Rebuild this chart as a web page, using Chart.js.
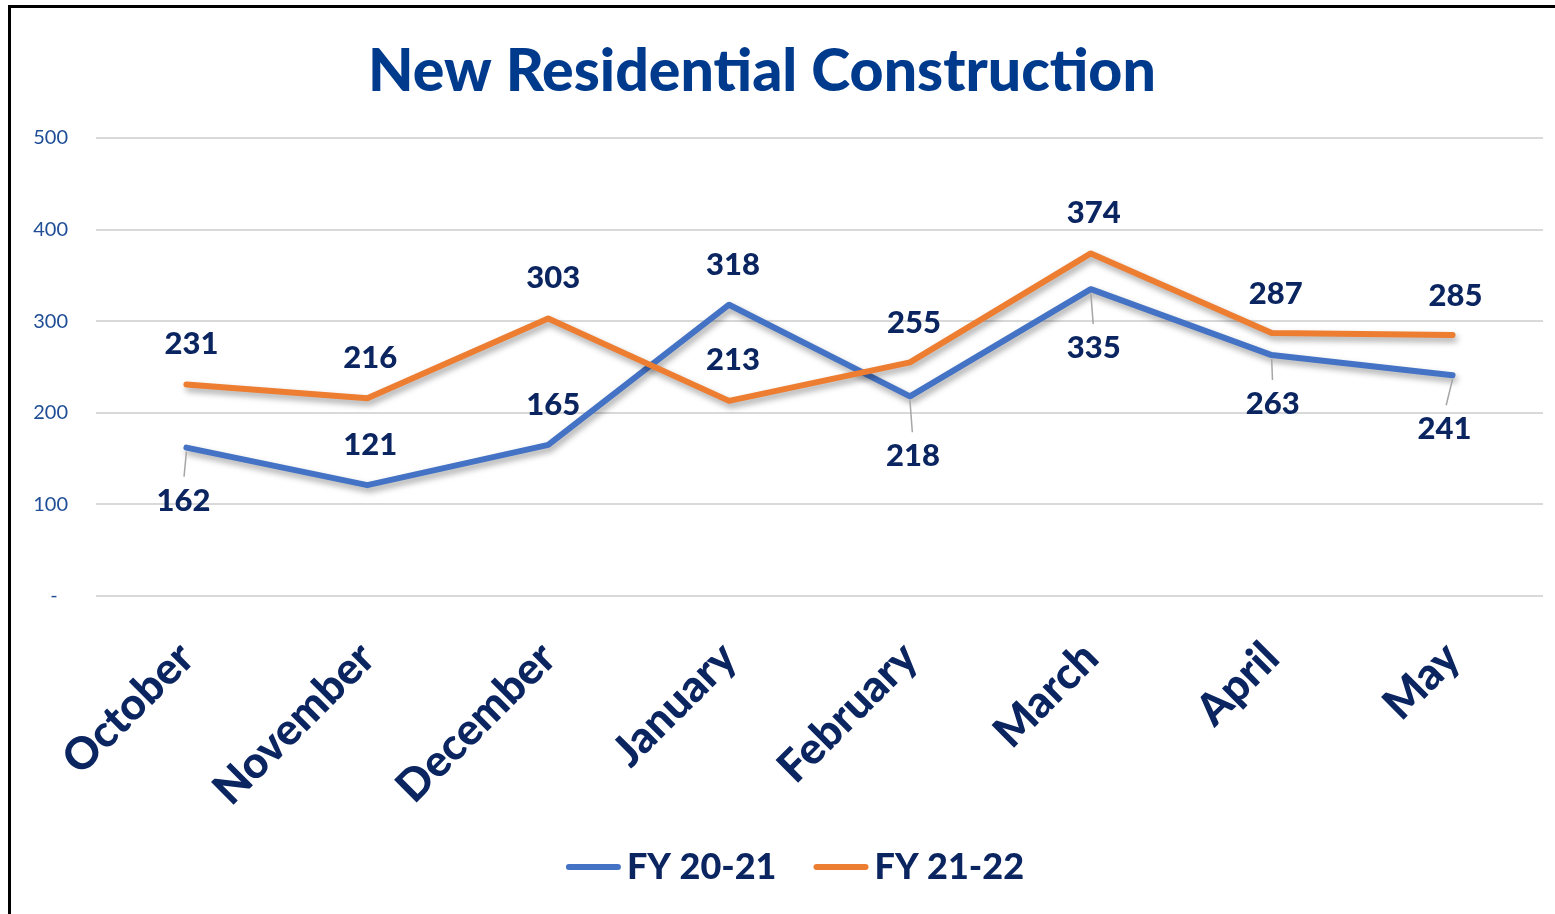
<!DOCTYPE html>
<html>
<head>
<meta charset="utf-8">
<script src="https://cdn.jsdelivr.net/npm/chart.js@4.4.1/dist/chart.umd.min.js"></script>
<style>
  html, body { margin: 0; padding: 0; background: #fff; overflow: hidden; }
  #frame {
    position: absolute; left: 8px; top: 5px; width: 1600px; height: 960px;
    border-left: 3px solid #000; border-top: 3px solid #000; box-sizing: border-box;
  }
  #wrap { position: absolute; left: 0; top: 0; width: 1555px; height: 914px; }
</style>
</head>
<body>
<div id="frame"></div>
<div id="wrap"><canvas id="chart"></canvas></div>
<script>
// chart data
const months = ['October', 'November', 'December', 'January', 'February', 'March', 'April', 'May']
const fy2021 = [162, 121, 165, 318, 218, 335, 263, 241]
const fy2122 = [231, 216, 303, 213, 255, 374, 287, 285]
const yTicks = [0, 100, 200, 300, 400, 500]

const navy = '#0B2561'
const blue = '#4472C4'
const orange = '#ED7D31'

// where each value label sits relative to its point (dx, dy to text centre)
const labelPlace = [
  [[-3, 53, true], [3, -40], [5, -40], [4, -40], [3, 60, true], [3, 59, true], [1, 49, true], [-8, 54, true]],
  [[5, -40], [3, -40], [5, -40], [4, -41], [4, -39], [3, -40], [4, -39], [3, -39]]
]

const shadowPlugin = {
  id: 'lineShadow',
  beforeDatasetDraw(chart) {
    const ctx = chart.ctx
    ctx.save()
    ctx.shadowColor = 'rgba(0,0,0,0.35)'
    ctx.shadowBlur = 6
    ctx.shadowOffsetX = 2
    ctx.shadowOffsetY = 4
  },
  afterDatasetDraw(chart) {
    chart.ctx.restore()
  }
}

const overlayPlugin = {
  id: 'overlay',
  afterDraw(chart) {
    const ctx = chart.ctx
    ctx.save()
    // title
    ctx.fillStyle = '#003A8C'
    ctx.font = '900 59px Lato'
    ctx.textAlign = 'center'
    ctx.textBaseline = 'middle'
    ctx.fillText('New Residential Construction', 762, 72)

    // value labels + leader lines
    ctx.font = '900 31px Lato'
    chart.data.datasets.forEach((ds, di) => {
      const meta = chart.getDatasetMeta(di)
      meta.data.forEach((pt, i) => {
        const [dx, dy, lead] = labelPlace[di][i]
        const lx = pt.x + dx
        const ly = pt.y + dy
        if (lead) {
          ctx.strokeStyle = '#A6A6A6'
          ctx.lineWidth = 1.5
          ctx.beginPath()
          ctx.moveTo(pt.x, pt.y + 4)
          ctx.lineTo(pt.x + dx * 0.8, ly - 24)
          ctx.stroke()
        }
        ctx.fillStyle = navy
        ctx.fillText(String(ds.data[i]), lx, ly)
      })
    })

    // legend
    ctx.font = '900 36px Lato'
    ctx.textAlign = 'left'
    ctx.lineCap = 'round'
    ctx.lineWidth = 6
    const items = chart.data.datasets.map(ds => ({ text: ds.label, color: ds.borderColor, w: ctx.measureText(ds.label).width }))
    const lineLen = 55, gap = 6, between = 37
    const total = items.reduce((s, it) => s + lineLen + gap + it.w, 0) + between * (items.length - 1)
    let x = 795 - total / 2
    const ly = 867
    items.forEach(it => {
      ctx.strokeStyle = it.color
      ctx.beginPath()
      ctx.moveTo(x + 3, ly)
      ctx.lineTo(x + lineLen - 3, ly)
      ctx.stroke()
      ctx.fillStyle = navy
      ctx.fillText(it.text, x + lineLen + gap, ly)
      x += lineLen + gap + it.w + between
    })
    ctx.restore()
  }
}

new Chart(document.getElementById('chart'), {
  type: 'line',
  data: {
    labels: months,
    datasets: [
      {
        label: 'FY 20-21',
        data: fy2021,
        borderColor: blue,
        backgroundColor: blue,
        borderWidth: 6,
        borderCapStyle: 'round',
        borderJoinStyle: 'round',
        pointRadius: 0,
        tension: 0,
        order: 1
      },
      {
        label: 'FY 21-22',
        data: fy2122,
        borderColor: orange,
        backgroundColor: orange,
        borderWidth: 6,
        borderCapStyle: 'round',
        borderJoinStyle: 'round',
        pointRadius: 0,
        tension: 0,
        order: 0
      }
    ]
  },
  options: {
    responsive: true,
    maintainAspectRatio: false,
    animation: false,
    layout: { padding: { top: 138, left: 0, right: 12, bottom: 75 } },
    plugins: {
      title: { display: false },
      tooltip: { enabled: false },
      legend: { display: false }
    },
    scales: {
      x: {
        offset: true,
        grid: { display: false },
        border: { display: false },
        afterFit: (scale) => { scale.height = 243 },
        ticks: {
          color: navy,
          autoSkip: false,
          minRotation: 45,
          maxRotation: 45,
          padding: 28,
          font: { family: 'Lato', size: 44, weight: '900' }
        }
      },
      y: {
        min: 0,
        max: 500,
        afterFit: (scale) => { scale.width = 96 },
        afterBuildTicks: (scale) => { scale.ticks = yTicks.map(v => ({ value: v })) },
        grid: { color: '#D9D9D9', lineWidth: 2, drawTicks: false },
        border: { display: false },
        ticks: {
          color: '#1F4E96',
          padding: 28,
          font: { family: 'Lato', size: 20 },
          callback: (v) => v === 0 ? '-  ' : v
        }
      }
    }
  },
  plugins: [shadowPlugin, overlayPlugin]
})
</script>
</body>
</html>
